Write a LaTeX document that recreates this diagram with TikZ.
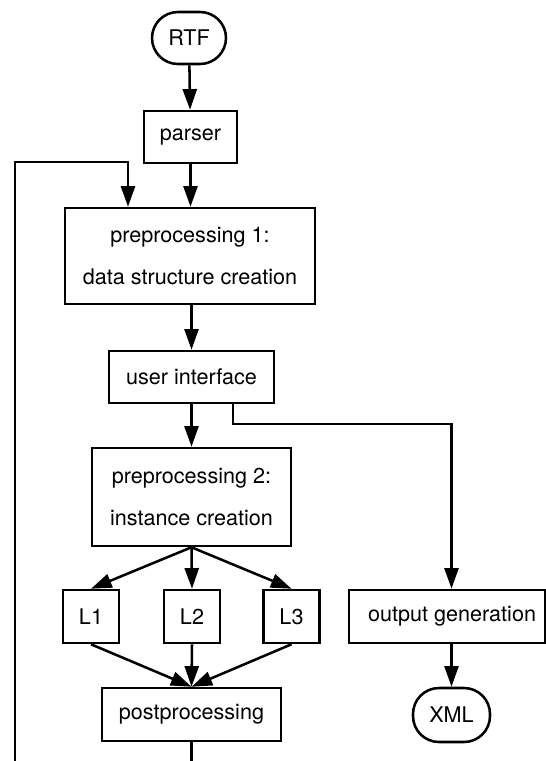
\documentclass[tikz,border=0pt]{standalone}
\usepackage{fontspec}
\setmainfont{TeX Gyre Heros}
\usetikzlibrary{arrows.meta,calc}

\tikzset{
  line/.style={line width=1.9pt, line join=miter},
  arr/.style={line, -{Triangle[length=15.5pt,width=10.5pt]}},
  box/.style={draw, line width=1.9pt, inner sep=0pt, align=center,
              font=\fontsize{16.2}{19}\selectfont},
  term/.style={box, rounded corners=19.5pt},
}

\begin{document}
\begin{tikzpicture}[x=0.75pt, y=-0.75pt]
  \useasboundingbox (0,0) rectangle (546,761);

  % terminals and processing steps
  \node[term, minimum width=55.5pt,  minimum height=39pt]   (rtf)    at (189,38)    {RTF};
  \node[box,  minimum width=69.75pt, minimum height=39pt]   (parser) at (190.5,137) {parser};
  \node[box,  minimum width=187.5pt, minimum height=72pt]   (pre1)   at (190,256)
       {preprocessing 1:\\[13pt]data structure creation};
  \node[box,  minimum width=123.75pt, minimum height=39pt]  (ui)     at (191.5,377) {user interface};
  \node[box,  minimum width=149.25pt, minimum height=73.5pt] (pre2)  at (191.5,497)
       {preprocessing 2:\\[13pt]instance creation};
  \node[box,  minimum width=42pt, minimum height=39.75pt]   (l1)     at (91,616.5)  {L1};
  \node[box,  minimum width=42pt, minimum height=39.75pt]   (l2)     at (192,616.5) {L2};
  \node[box,  minimum width=42pt, minimum height=39.75pt]   (l3)     at (291.5,616.5) {L3};
  \node[box,  minimum width=147pt, minimum height=39.75pt]  (og)     at (447,616.5)
       {\hspace*{7.5pt}output generation};
  \node[box,  minimum width=134.25pt, minimum height=39.75pt] (post) at (191.5,714.5) {postprocessing};
  \node[term, minimum width=57.75pt, minimum height=40.5pt] (xml)    at (451.5,715) {XML};

  % free ends and bends
  \coordinate (fbbot)   at (15,761);
  \coordinate (fbtop)   at (15,162);
  \coordinate (ogin)    at (451.5,424);
  \coordinate (postend) at (191.5,761);

  % main flow
  \draw[arr] (rtf) -- (parser);
  \draw[arr] (parser) -- (pre1.north -| parser);
  \draw[arr] (pre1.south -| ui) -- (ui);
  \draw[arr] (ui) -- (pre2);
  \draw[arr] (pre2.south) -- (l1.north);
  \draw[arr] (pre2.south) -- (l2.north);
  \draw[arr] (pre2.south) -- (l3.north);
  \draw[arr] (l1.south) -- (post.north);
  \draw[arr] (l2.south) -- (post.north);
  \draw[arr] (l3.south) -- (post.north);
  \draw[line] (post.south) -- (postend);

  % branch to the output
  \draw[arr] ([xshift=31pt]ui.south) |- (ogin) -- (og.north -| xml);
  \draw[arr] (og.south -| xml) -- (xml);

  % feedback loop into the first preprocessing step
  \draw[arr] (fbbot) -- (fbtop) -| ([xshift=-46.5pt]pre1.north);
\end{tikzpicture}
\end{document}
